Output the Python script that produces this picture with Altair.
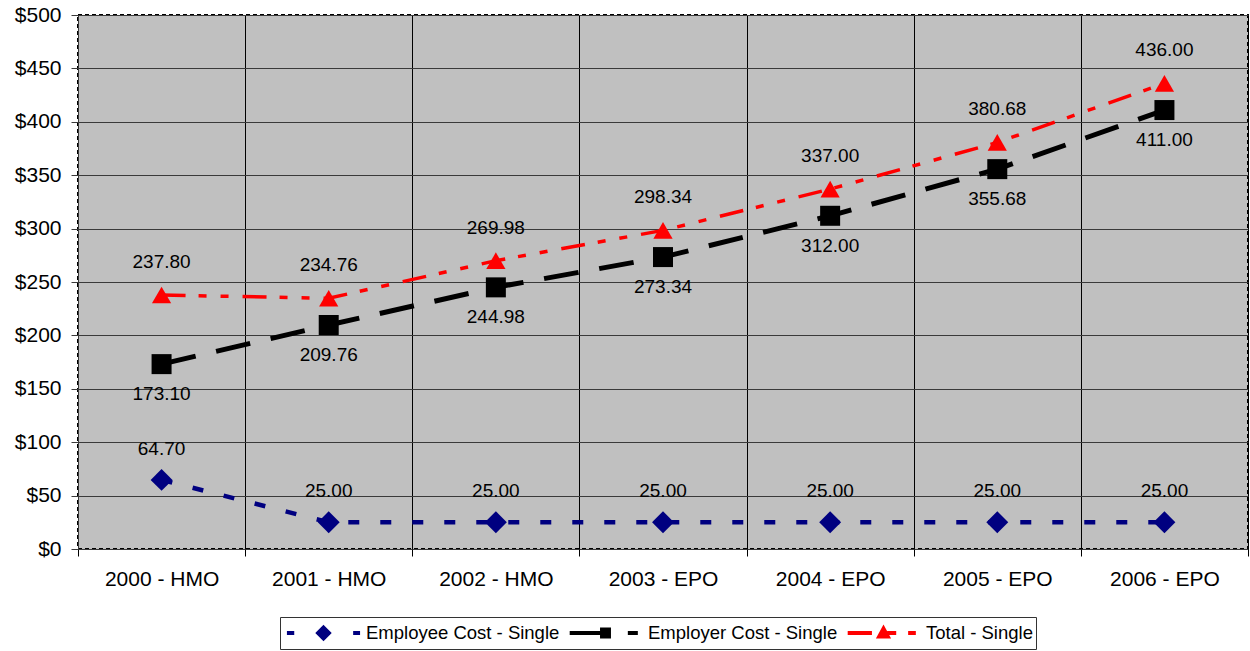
import altair as alt
import pandas as pd

# Monthly single-coverage premium, split between employee and employer
plans = ["2000 - HMO", "2001 - HMO", "2002 - HMO", "2003 - EPO",
         "2004 - EPO", "2005 - EPO", "2006 - EPO"]
employee_cost = [64.70, 25.00, 25.00, 25.00, 25.00, 25.00, 25.00]
employer_cost = [173.10, 209.76, 244.98, 273.34, 312.00, 355.68, 411.00]
total_cost = [237.80, 234.76, 269.98, 298.34, 337.00, 380.68, 436.00]

series_names = ["Employee Cost - Single", "Employer Cost - Single", "Total - Single"]
series_colors = ["#000080", "#000000", "#FF0000"]
series_values = [employee_cost, employer_cost, total_cost]
y_ticks = list(range(0, 501, 50))

FONT = "Liberation Sans"

rows = []
for name, vals in zip(series_names, series_values):
    for plan, v in zip(plans, vals):
        rows.append({"plan": plan, "series": name, "value": v})
df = pd.DataFrame(rows)

x_enc = alt.X(
    "plan:N",
    sort=plans,
    bandPosition=0.5,
    scale=alt.Scale(type="band", paddingInner=0, paddingOuter=0),
    axis=alt.Axis(
        title=None, labelAngle=0, tickBand="extent", grid=True,
        gridColor="#000000", gridWidth=1, tickSize=7, tickColor="#000000",
        domain=False, labelFont=FONT, labelFontSize=21, labelColor="#000000",
        labelPadding=12,
    ),
)
y_enc = alt.Y(
    "value:Q",
    scale=alt.Scale(domain=[0, 500], nice=False, zero=True),
    axis=alt.Axis(
        title=None, values=y_ticks, format="$.0f", grid=True,
        gridColor="#3a3a3a", gridWidth=1, tickSize=7, tickColor="#3a3a3a",
        domainColor="#3a3a3a", labelFont=FONT, labelFontSize=21,
        labelColor="#000000", labelPadding=10,
    ),
)

styles = {
    "Employee Cost - Single": dict(dash=[11, 21], width=4.5, shape="diamond", size=480, dy=-31),
    "Employer Cost - Single": dict(dash=[35, 21], width=5, shape="square", size=400, dy=30),
    "Total - Single": dict(dash=[24, 13, 8, 14, 8, 14], width=3.5, shape="triangle-up", size=370, dy=-33),
}

layers = []
for name, color in zip(series_names, series_colors):
    st = styles[name]
    base = alt.Chart(df).transform_filter(alt.datum.series == name)
    layers.append(
        base.mark_line(color=color, strokeWidth=st["width"], strokeDash=st["dash"])
        .encode(x=x_enc, y=y_enc)
    )
for name, color in zip(series_names, series_colors):
    st = styles[name]
    base = alt.Chart(df).transform_filter(alt.datum.series == name)
    layers.append(
        base.mark_point(shape=st["shape"], size=st["size"], filled=True,
                        color=color, opacity=1)
        .encode(x=x_enc, y=y_enc)
    )
for name in series_names:
    st = styles[name]
    base = alt.Chart(df).transform_filter(alt.datum.series == name)
    layers.append(
        base.mark_text(dy=st["dy"], font=FONT, fontSize=19, color="#000000")
        .encode(x=x_enc, y=y_enc, text=alt.Text("value:Q", format=".2f"))
    )

# Legend glyphs: line segments with the series marker in between
# (marker outlines get inner strokes so they read as solid shapes)
legend_paths = [
    "M-0.95,0H-0.76M0,-0.14L0.14,0L0,0.14L-0.14,0ZM-0.14,0H0.14M0,-0.14V0.14M0.77,0H0.95",
    "M-0.93,0H-0.12M-0.09,-0.09H0.09V0.09H-0.09ZM-0.09,0H0.09M0,-0.09V0.09M0.58,0H0.84",
    "M-0.93,0H-0.3M-0.11,0.09L0,-0.11L0.11,0.09ZM-0.1,0.06H0.1M0,-0.1V0.09M0.1,0H0.33M0.64,0H0.84",
]
legend = alt.Legend(
    title=None, orient="none", legendX=202, legendY=602, direction="horizontal",
    columns=3, symbolSize=5929, symbolStrokeWidth=4, clipHeight=26,
    labelFont=FONT, labelFontSize=18.5, labelColor="#000000", labelLimit=0,
    labelOffset=2, columnPadding=5, padding=3, strokeColor="#333333",
    fillColor="#FFFFFF",
)
color_scale = alt.Scale(domain=series_names, range=series_colors)
legend_layer = alt.Chart(df).mark_point(filled=True, opacity=0).encode(
    x=x_enc, y=y_enc,
    fill=alt.Fill("series:N", scale=color_scale, legend=legend),
    stroke=alt.Stroke("series:N", scale=color_scale, legend=legend),
    shape=alt.Shape("series:N", scale=alt.Scale(domain=series_names, range=legend_paths), legend=legend),
)
layers.append(legend_layer)

chart = alt.layer(*layers).properties(
    width=1170, height=534,
    autosize=alt.AutoSizeParams(type="none"),
    padding={"left": 78, "top": 15, "right": 2, "bottom": 102},
    background="#FFFFFF",
).configure_view(
    fill="#C0C0C0", stroke="#000000", strokeDash=[4, 3], strokeWidth=2,
)

chart.save("out.html", embed_options={"renderer": "svg", "actions": False})
